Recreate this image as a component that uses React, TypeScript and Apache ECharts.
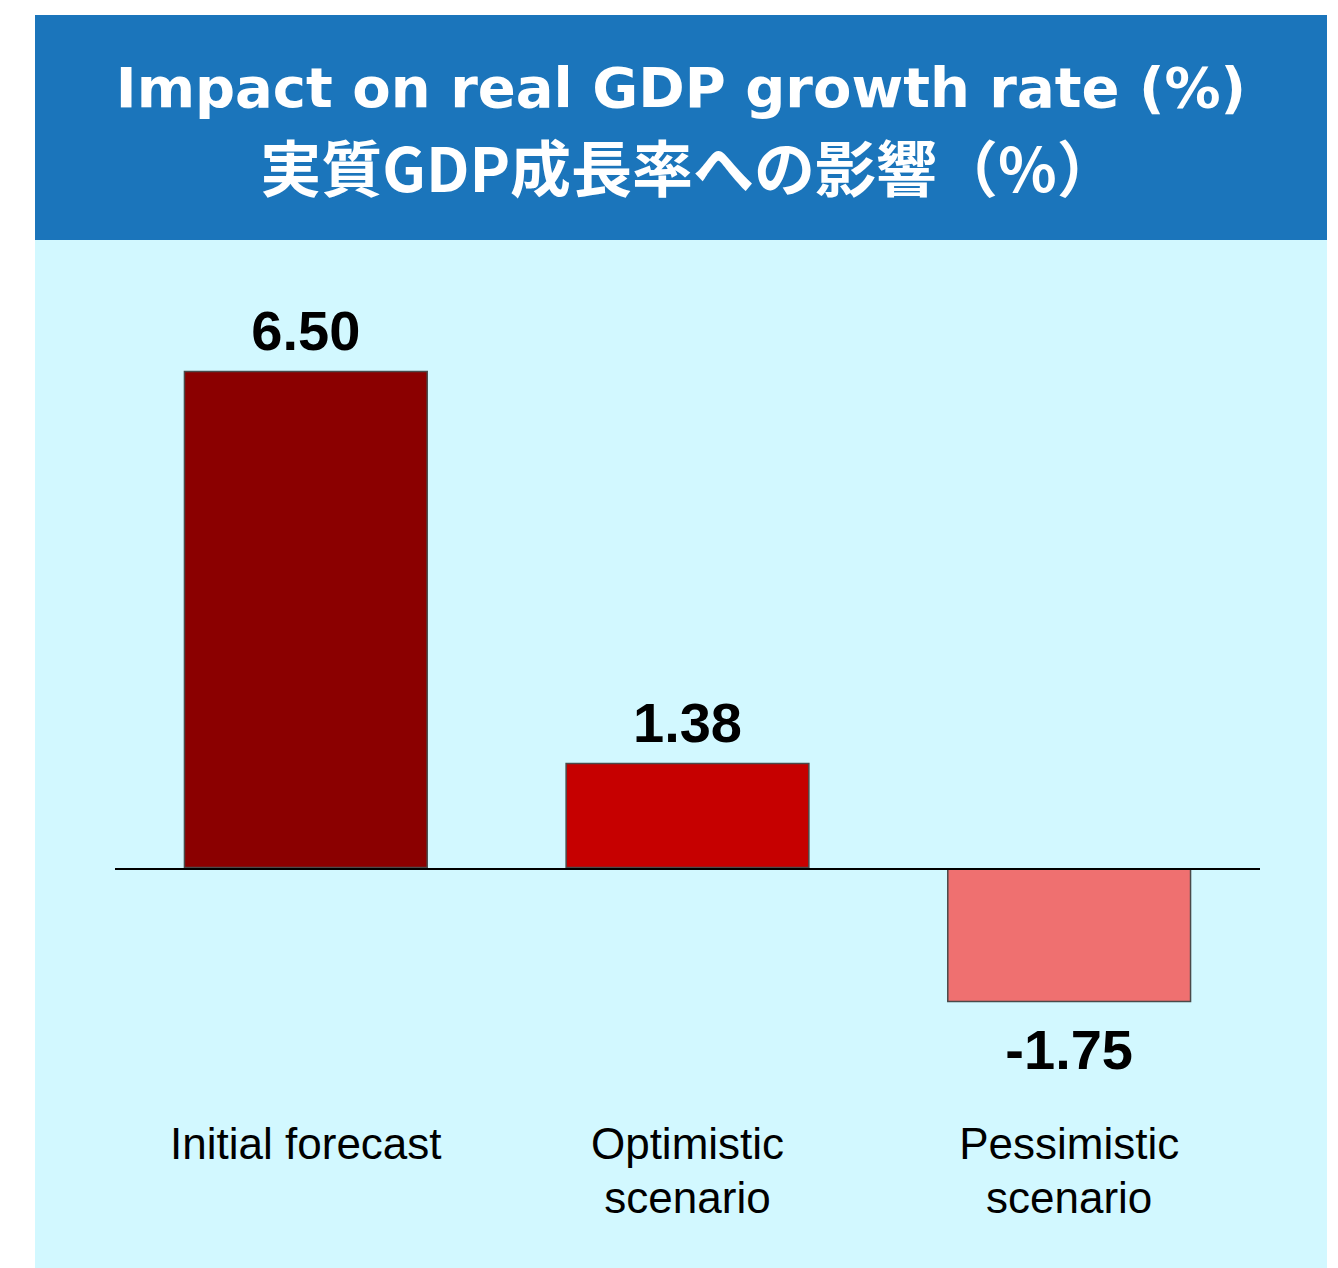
import React, { useEffect, useRef } from "react";
import * as echarts from "echarts";

const categories = ["Initial forecast", "Optimistic\nscenario", "Pessimistic\nscenario"];
const values = [6.5, 1.38, -1.75];
const barColors = ["#8b0000", "#c60000", "#ef7070"];
const titleEn = "Impact on real GDP growth rate (%)";
const titleJa = "実質GDP成長率への影響（%）";

export default function App() {
  const ref = useRef<HTMLDivElement>(null);
  useEffect(() => {
    document.body.style.margin = "0";
    const chart = echarts.init(ref.current!, null, { renderer: "svg" });
    chart.setOption({
      animation: false,
      backgroundColor: "#ffffff",
      graphic: [
        { type: "rect", z: 0, shape: { x: 35, y: 15, width: 1292, height: 225 }, style: { fill: "#1b75bb" } },
        { type: "rect", z: 0, shape: { x: 35, y: 240, width: 1292, height: 1028 }, style: { fill: "#d2f8ff" } },
        {
          type: "text", z: 5, x: 681, y: 87,
          style: { text: titleEn, fill: "#ffffff", font: "bold 56px 'DejaVu Sans', sans-serif", textAlign: "center", textVerticalAlign: "middle" },
        },
        {
          type: "text", z: 5, x: 689, y: 165,
          style: { text: titleJa, fill: "#ffffff", font: "bold 61px 'Noto Sans CJK JP', sans-serif", textAlign: "center", textVerticalAlign: "middle" },
        },
      ],
      grid: { left: 115, right: 78, top: 256, height: 842, containLabel: false, outerBoundsMode: "none" },
      xAxis: {
        type: "category",
        data: categories,
        axisLine: { show: false, onZero: false },
        axisTick: { show: false },
        axisLabel: {
          margin: 18,
          color: "#000000",
          fontSize: 44,
          lineHeight: 54,
          fontFamily: "'Liberation Sans', Arial, sans-serif",
          align: "center",
        },
      },
      yAxis: {
        type: "value",
        min: -3,
        max: 8,
        show: false,
        splitLine: { show: false },
      },
      series: [
        {
          type: "bar",
          barCategoryGap: "36%",
          data: values.map((v, i) => ({
            value: v,
            itemStyle: { color: barColors[i], borderColor: "#4a4a4a", borderWidth: 1.5 },
            label: {
              show: true,
              position: v >= 0 ? "top" : "bottom",
              distance: v >= 0 ? 12 : 19,
              formatter: v.toFixed(2),
              color: "#000000",
              fontSize: 56,
              fontWeight: "bold",
              fontFamily: "'Liberation Sans', Arial, sans-serif",
            },
          })),
          markLine: {
            silent: true,
            symbol: ["none", "none"],
            label: { show: false },
            lineStyle: { color: "#000000", width: 2, type: "solid" },
            data: [{ yAxis: 0 }],
          },
        },
      ],
    });
    return () => chart.dispose();
  }, []);
  return <div ref={ref} style={{ width: 1338, height: 1268 }} />;
}
